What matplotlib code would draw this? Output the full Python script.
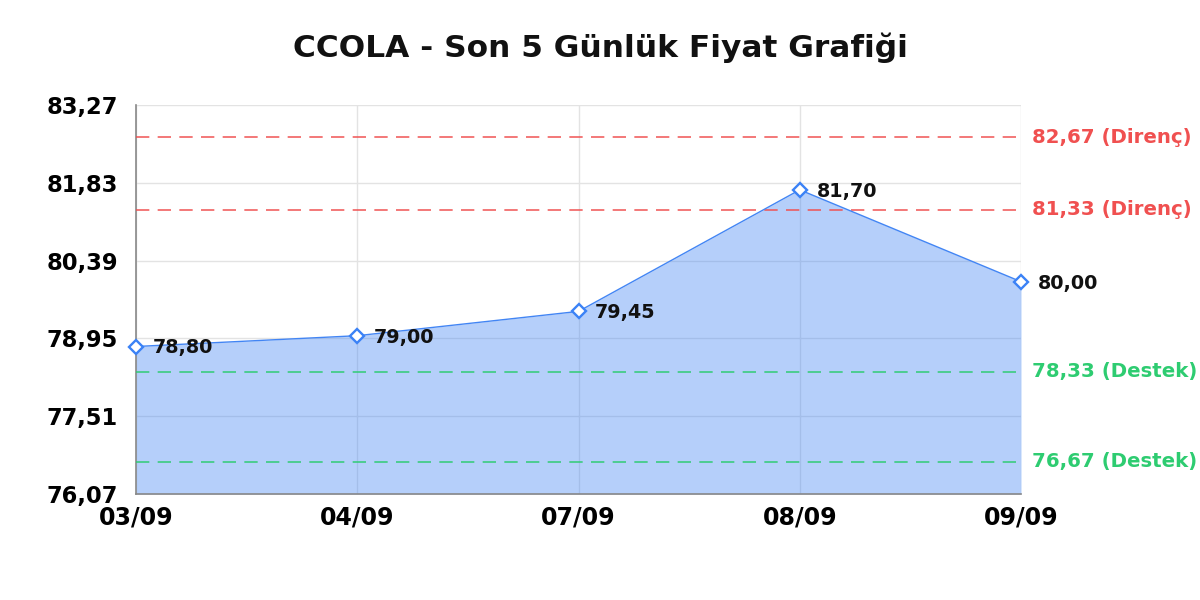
import matplotlib
matplotlib.use("Agg")
import matplotlib.pyplot as plt
from matplotlib.transforms import blended_transform_factory

dates = ["03/09", "04/09", "07/09", "08/09", "09/09"]
prices = [78.80, 79.00, 79.45, 81.70, 80.00]
resistance = [82.67, 81.33]
support = [78.33, 76.67]
y_ticks = [76.07, 77.51, 78.95, 80.39, 81.83, 83.27]
title = "CCOLA - Son 5 Günlük Fiyat Grafiği"

def fmt(v):
    return f"{v:.2f}".replace(".", ",")

plt.rcParams['font.family'] = ['DejaVu Sans']
fig = plt.figure(figsize=(12, 6), dpi=100)
ax = fig.add_axes([136/1200, 1-494/600, (1021-136)/1200, (494-105)/600])

x = list(range(len(dates)))
ax.fill_between(x, prices, y_ticks[0], color=(66/255, 133/255, 244/255), alpha=0.39, linewidth=0, zorder=2)
ax.plot(x, prices, color="#4285f4", lw=1.0, zorder=4)
ax.plot(x, prices, ls="none", marker="D", ms=7.5, mfc="white", mec="#3b82f6", mew=1.7, zorder=6, clip_on=False)

for xi, p in zip(x, prices):
    ax.annotate(fmt(p), (xi, p), xytext=(12, -1), textcoords="offset points",
                ha="left", va="center", fontsize=13.8, fontweight="bold", color="#111111", zorder=7)

red = "#f05050"
green = "#2ecc71"
trans = blended_transform_factory(ax.transAxes, ax.transData)
for r in resistance:
    ax.axhline(r, color=red, lw=1.2, ls=(0, (8, 5)), zorder=3, alpha=0.9)
    ax.annotate(f"{fmt(r)} (Direnç)", (1.0, r), xycoords=trans, xytext=(8, 0), textcoords="offset points",
                ha="left", va="center", fontsize=14.2, fontweight="bold", color=red, annotation_clip=False)
for s in support:
    ax.axhline(s, color=green, lw=1.2, ls=(0, (8, 5)), zorder=3, alpha=0.9)
    ax.annotate(f"{fmt(s)} (Destek)", (1.0, s), xycoords=trans, xytext=(8, 0), textcoords="offset points",
                ha="left", va="center", fontsize=14.2, fontweight="bold", color=green, annotation_clip=False)

ax.set_xlim(0, len(dates) - 1)
ax.set_ylim(y_ticks[0], y_ticks[-1])
ax.set_xticks(x)
ax.set_xticklabels(dates)
ax.set_yticks(y_ticks)
ax.set_yticklabels([fmt(v) for v in y_ticks])
ax.tick_params(axis="both", length=0)
ax.tick_params(axis="y", pad=13, labelsize=16.3)
ax.tick_params(axis="x", pad=8, labelsize=17)
for lbl in ax.get_xticklabels() + ax.get_yticklabels():
    lbl.set_fontweight("bold")

ax.grid(True, color="#e3e3e3", lw=1, zorder=0)
ax.set_axisbelow(True)
for s in ["top", "right"]:
    ax.spines[s].set_visible(False)
for s in ["left", "bottom"]:
    ax.spines[s].set_color("#888888")
    ax.spines[s].set_linewidth(1.2)

fig.text(0.5, 1 - 48/600, title, ha="center", va="center", fontsize=22.5, fontweight="bold", color="#111111")

fig.savefig("out.png", dpi=100, facecolor="white")
